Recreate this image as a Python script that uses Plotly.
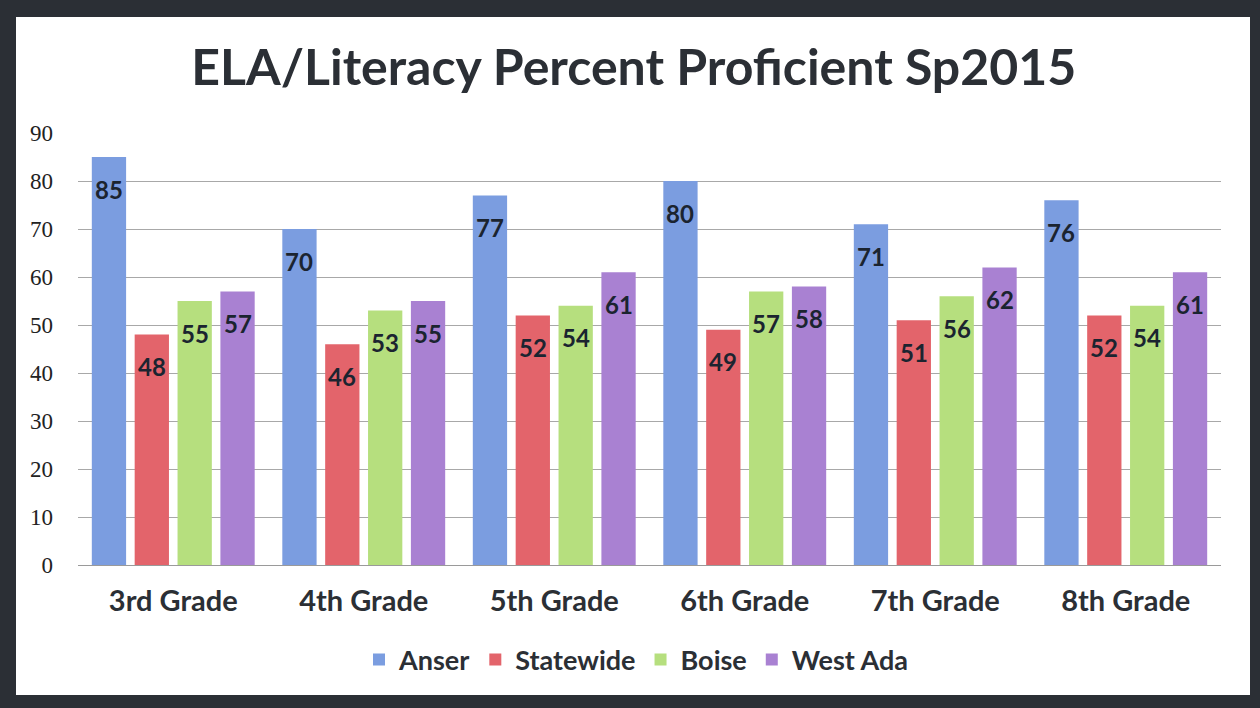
import plotly.graph_objects as go

# data
grades = ["3rd Grade", "4th Grade", "5th Grade", "6th Grade", "7th Grade", "8th Grade"]
anser = [85, 70, 77, 80, 71, 76]
statewide = [48, 46, 52, 49, 51, 52]
boise = [55, 53, 54, 57, 56, 54]
west_ada = [57, 55, 61, 58, 62, 61]
y_ticks = [0, 10, 20, 30, 40, 50, 60, 70, 80, 90]

series = [
    ("Anser", anser, "#7b9de0"),
    ("Statewide", statewide, "#e3646b"),
    ("Boise", boise, "#b6df7e"),
    ("West Ada", west_ada, "#a981d2"),
]

W, H = 1260, 708
ML, MR, MT, MB = 78, 39, 133, 143
pw, ph = W - ML - MR, H - MT - MB
BARGAP = 0.1

fig = go.Figure()
annotations = []
slot = (1 - BARGAP) / len(series)
for k, (name, vals, col) in enumerate(series):
    fig.add_trace(go.Bar(
        name=name, x=grades, y=vals,
        marker=dict(color=col, line=dict(width=0)),
    ))
    # value labels sit a little below the top of each bar
    off = (k - (len(series) - 1) / 2) * slot
    for i, v in enumerate(vals):
        annotations.append(dict(
            x=i + off, y=v, xref="x", yref="y", text=str(v), showarrow=False,
            yanchor="middle", yshift=-32,
            font=dict(family="Lato", size=24, color="#1b2430", weight="bold"),
        ))

# dark frame around the chart (pixel -> paper)
def px_x(p):
    return (p - ML) / pw

def px_y(p):
    return (H - MB - p) / ph

frame = "#2b2f35"
shapes = []
for x0, y0, x1, y1 in [(0, 0, W, 17), (0, 695, W, H), (0, 0, 16, H), (1250, 0, W, H)]:
    shapes.append(dict(type="rect", xref="paper", yref="paper",
                       x0=px_x(x0), x1=px_x(x1), y0=px_y(y1), y1=px_y(y0),
                       fillcolor=frame, line=dict(width=0), layer="above"))

fig.update_layout(
    width=W, height=H,
    margin=dict(l=ML, r=MR, t=MT, b=MB),
    paper_bgcolor="white", plot_bgcolor="white",
    barmode="group", bargap=BARGAP, bargroupgap=0.2,
    title=dict(text="<b>ELA/Literacy Percent Proficient Sp2015</b>",
               x=0.503, xanchor="center", y=1 - 67 / H, yanchor="middle",
               font=dict(family="Lato", size=50, color="#2b2f35")),
    legend=dict(orientation="h", x=px_x(636), xanchor="center",
                y=px_y(660), yanchor="middle",
                font=dict(family="Lato", size=27, color="#2b2f35", weight="bold"),
                itemwidth=30, tracegroupgap=0),
    annotations=annotations,
    shapes=shapes,
    showlegend=True,
)
fig.update_xaxes(showgrid=False, showline=True, linecolor="#9a9a9a", linewidth=1,
                 ticks="", ticklabelstandoff=10,
                 tickfont=dict(family="Lato", size=29, color="#2b2f35", weight="bold"))
fig.update_yaxes(range=[0, 90], tickvals=y_ticks, showgrid=True, gridcolor="#a8a8a8",
                 gridwidth=1, zeroline=False, ticks="", ticklabelstandoff=24,
                 tickfont=dict(family="Liberation Serif", size=23, color="#222"))

fig.write_html("out.html", config={"displayModeBar": False},
               post_script="document.body.style.margin='0';")
